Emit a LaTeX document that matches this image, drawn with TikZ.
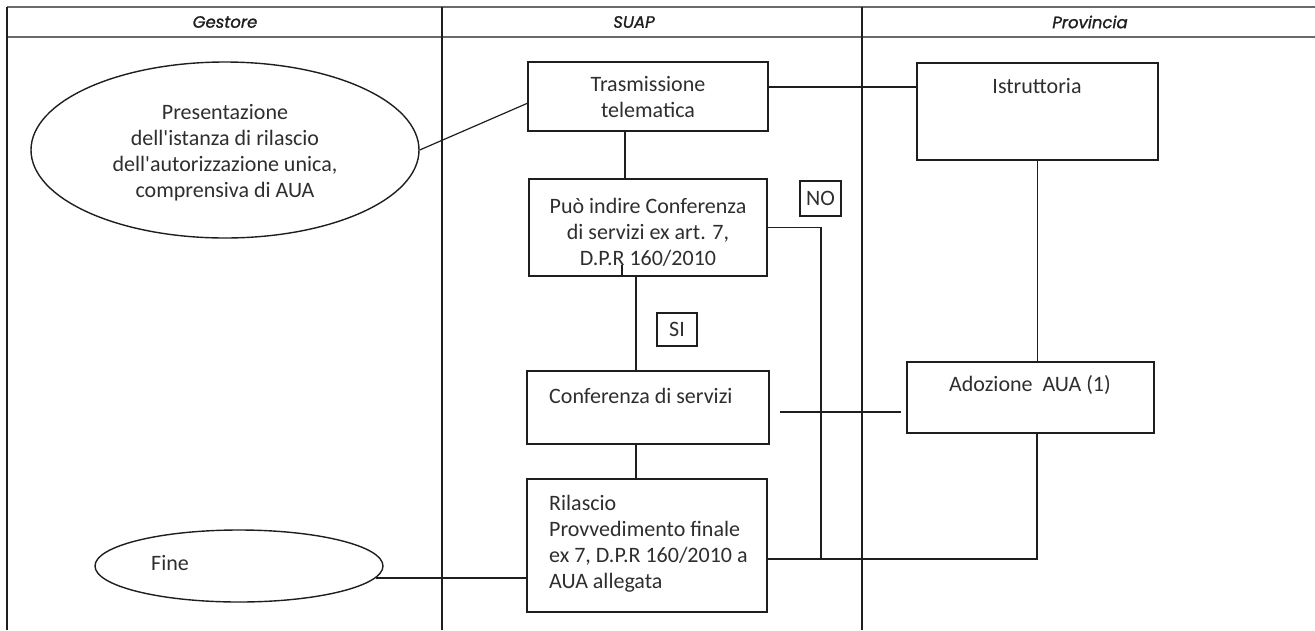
\documentclass[tikz,border=0pt]{standalone}
\usepackage{xcolor}
\usepackage{fontspec}
\setmainfont{Carlito}
\newfontfamily\headfont{Poppins}[FakeBold=1.2]
\usetikzlibrary{positioning,shapes.geometric}
\definecolor{rulegray}{HTML}{6A6A6A}
\definecolor{ink}{HTML}{1E1E1E}
\definecolor{textgray}{HTML}{2E2E2E}

\begin{document}
\begin{tikzpicture}[x=1pt,y=-1pt,
  rule/.style={draw=rulegray,line width=2pt},
  lane/.style={draw=ink,line width=1.2pt},
  box/.style={draw=ink,line width=1.4pt,anchor=north west,inner sep=0pt,outer sep=0pt},
  oval/.style={draw=ink,line width=1.4pt,ellipse,inner sep=0pt},
  txt/.style={font=\fontsize{22}{26}\selectfont,text=textgray,inner sep=0pt,anchor=north},
  tag/.style={box,font=\fontsize{22}{26}\selectfont,text=textgray},
  lanehead/.style={font=\headfont\itshape\fontsize{16.5}{18}\selectfont,text=ink,inner sep=0pt},
  wire/.style={draw=ink,line width=1.2pt}
]
\useasboundingbox (0,0) rectangle (1315,630);
% table
\draw[rule] (7,7) -- (1315,7);
\draw[rule] (7,37) -- (1315,37);
\foreach \x in {7,442,862} \draw[lane] (\x,7) -- (\x,630);
\node[lanehead] (gestore) at (225,22) {Gestore};
\node[lanehead] (suap) at (634,22) {SUAP};
\node[lanehead] (provincia) at (1090,22) {Provincia};
% nodes
\node[oval,minimum width=388pt,minimum height=176pt] (pres) at (225,150) {};
\node[txt,align=center] at (225,104) {Presentazione\\dell\textquotesingle istanza di rilascio\\dell\textquotesingle autorizzazione unica,\\comprensiva di AUA};
\node[box,minimum width=240pt,minimum height=69pt] (trasm) at (528,62) {};
\node[txt,align=center] at (648,76) {Trasmissione\\telematica};
\node[box,minimum width=241pt,minimum height=97pt] (istr) at (917,63) {};
\node[txt] at (1037,78) {Istruttoria};
\node[box,minimum width=238pt,minimum height=97pt] (puo) at (529,179) {};
\node[txt,align=center] at (648,198) {Può indire Conferenza\\di servizi ex art. 7,\\D.P.R 160/2010};
\node[tag,minimum width=41pt,minimum height=35pt] (no) at (800,181) {NO};
\node[tag,minimum width=40pt,minimum height=33pt] (si) at (657,313) {SI};
\node[box,minimum width=242pt,minimum height=73pt] (conf) at (527,371) {};
\node[txt,anchor=north west] at (549,388) {Conferenza di servizi};
\node[box,minimum width=240pt,minimum height=133pt,below=35pt of conf.south west,anchor=north west] (ril) {};
\node[txt,anchor=north west,align=left] at (549,495) {Rilascio\\Provvedimento finale\\ex 7, D.P.R 160/2010 a\\AUA allegata};
\node[box,minimum width=247pt,minimum height=71pt] (adoz) at (907,362) {};
\node[txt] at (1030,375) {Adozione\ \ AUA (1)};
\node[oval,minimum width=288pt,minimum height=72pt] (fine) at (239,566) {};
\node[txt] at (170,555) {Fine};
\coordinate (rilout) at ([yshift=-13.5pt]ril.east);
\coordinate (nobend) at (821,0);
\coordinate (join) at (nobend |- rilout);
% connectors
\draw[wire] (pres.east) -- ([yshift=-6.5pt]trasm.west);
\draw[wire] ([yshift=9.5pt]trasm.east) -- ([yshift=9.5pt]trasm.east -| istr.west);
\draw[wire] ([xshift=-23pt]trasm.south) -- ([xshift=-23pt]trasm.south |- puo.north);
\draw[wire] ([xshift=-12pt]puo.south) -- ([xshift=-12pt]puo.south |- conf.north);
\draw[wire] ([xshift=-26pt]puo.south) -- ++(0,-11);
\draw[wire] ([xshift=-12pt]conf.south) -- ([xshift=-12pt]conf.south |- ril.north);
\draw[wire] (puo.east) -| (join);
\draw[wire] (rilout) -- (join) -| ([xshift=6.5pt]adoz.south);
\draw[wire] (istr.south) -- (istr.south |- adoz.north);
\draw[wire,shorten <=11pt,shorten >=6pt] ([yshift=-4.5pt]conf.east) -- ([yshift=-4.5pt]conf.east -| adoz.west);
\draw[wire] (fine.-5) -- (fine.-5 -| ril.west);
\end{tikzpicture}
\end{document}
